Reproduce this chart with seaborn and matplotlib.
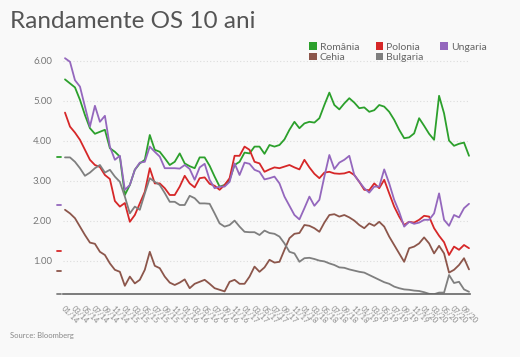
import matplotlib
matplotlib.use('Agg')
import matplotlib.pyplot as plt
import seaborn as sns
import pandas as pd
from matplotlib.patches import Patch

# monthly 10Y yields, 01/2014 .. 10/2020
romania = [5.54, 5.44, 5.34, 5.03, 4.65, 4.32, 4.18, 4.23, 4.28, 3.82, 3.73, 3.61,
           2.65, 2.9, 3.28, 3.44, 3.53, 4.15, 3.78, 3.73, 3.57, 3.4, 3.48, 3.69,
           3.44, 3.37, 3.32, 3.59, 3.59, 3.38, 3.11, 2.86, 2.9, 3.03, 3.4, 3.48,
           3.71, 3.69, 3.86, 3.86, 3.68, 3.9, 3.86, 3.9, 4.04, 4.28, 4.48, 4.32,
           4.44, 4.48, 4.46, 4.57, 4.9, 5.21, 4.9, 4.79, 4.94, 5.07, 4.96, 4.82,
           4.84, 4.73, 4.77, 4.9, 4.86, 4.73, 4.53, 4.28, 4.07, 4.09, 4.19, 4.57,
           4.38, 4.18, 4.03, 5.13, 4.69, 4.01, 3.88, 3.93, 3.96, 3.63]
polonia = [4.71, 4.36, 4.21, 4.03, 3.78, 3.53, 3.4, 3.35, 3.15, 3.05, 2.5, 2.36,
           2.45, 1.98, 2.15, 2.44, 2.73, 3.32, 2.94, 2.94, 2.82, 2.65, 2.65, 2.86,
           3.13, 2.94, 2.84, 3.07, 3.09, 2.93, 2.88, 2.78, 2.9, 3.07, 3.63, 3.63,
           3.86, 3.78, 3.48, 3.44, 3.23, 3.29, 3.34, 3.32, 3.36, 3.4, 3.34, 3.29,
           3.53, 3.34, 3.18, 3.07, 3.21, 3.23, 3.19, 3.18, 3.19, 3.23, 3.15, 2.98,
           2.78, 2.77, 2.94, 2.82, 3.03, 2.69, 2.36, 2.11, 1.9, 1.98, 1.96, 2.03,
           2.13, 2.11, 1.82, 1.63, 1.47, 1.15, 1.36, 1.28, 1.4, 1.32]
ungaria = [6.07, 5.98, 5.52, 5.36, 4.86, 4.36, 4.88, 4.48, 4.63, 3.86, 3.53, 3.63,
           2.78, 2.9, 3.28, 3.46, 3.48, 3.86, 3.73, 3.61, 3.32, 3.32, 3.32, 3.31,
           3.4, 3.3, 3.03, 3.34, 3.43, 3.03, 2.82, 2.86, 2.86, 2.98, 3.44, 3.15,
           3.46, 3.43, 3.28, 3.23, 3.04, 3.07, 3.11, 2.94, 2.61, 2.38, 2.15, 2.04,
           2.32, 2.61, 2.38, 2.53, 3.11, 3.65, 3.3, 3.46, 3.53, 3.63, 3.15, 2.98,
           2.82, 2.71, 2.86, 2.86, 3.29, 2.94, 2.53, 2.23, 1.86, 1.98, 1.93, 1.96,
           2.03, 2.03, 2.19, 2.69, 2.03, 1.88, 2.15, 2.09, 2.32, 2.43]
cehia = [2.28, 2.19, 2.07, 1.86, 1.65, 1.46, 1.43, 1.23, 1.15, 0.94, 0.78, 0.73,
         0.38, 0.61, 0.44, 0.53, 0.78, 1.23, 0.88, 0.82, 0.61, 0.46, 0.4, 0.46,
         0.54, 0.32, 0.43, 0.48, 0.53, 0.43, 0.32, 0.28, 0.24, 0.48, 0.53, 0.43,
         0.43, 0.61, 0.86, 0.73, 0.84, 1.03, 0.96, 0.98, 1.28, 1.57, 1.68, 1.7,
         1.9, 1.88, 1.82, 1.73, 1.96, 2.15, 2.17, 2.11, 2.15, 2.09, 2.01, 1.9,
         1.82, 1.94, 1.88, 1.98, 1.86, 1.61, 1.4, 1.19, 0.98, 1.32, 1.36, 1.44,
         1.59, 1.44, 1.19, 1.38, 1.19, 0.71, 0.78, 0.9, 1.07, 0.79]
bulgaria = [3.59, 3.59, 3.48, 3.32, 3.13, 3.21, 3.32, 3.4, 3.21, 3.28, 3.11, 2.98,
            2.61, 2.19, 2.36, 2.28, 2.69, 3.07, 2.98, 2.9, 2.7, 2.48, 2.48, 2.4,
            2.4, 2.63, 2.57, 2.44, 2.44, 2.43, 2.19, 1.94, 1.86, 1.9, 2.01, 1.86,
            1.73, 1.72, 1.72, 1.65, 1.76, 1.7, 1.68, 1.61, 1.44, 1.23, 1.19, 0.98,
            1.07, 1.08, 1.05, 1.01, 0.99, 0.94, 0.9, 0.84, 0.83, 0.79, 0.76, 0.73,
            0.71, 0.65, 0.59, 0.53, 0.47, 0.43, 0.36, 0.32, 0.29, 0.28, 0.26, 0.25,
            0.22, 0.18, 0.17, 0.21, 0.21, 0.65, 0.45, 0.48, 0.29, 0.23]

countries = ['România', 'Polonia', 'Ungaria', 'Cehia', 'Bulgaria']
colors = ['#2ca02c', '#d62728', '#9467bd', '#8c564b', '#7f7f7f']
# short marks at the left of the axis
stub_vals = [3.6, 1.26, 2.4, 0.75, 0.18]

tick_labels = ['%02d/%d' % (i % 12 + 1, 14 + i // 12) for i in range(0, 82, 2)]

series = [romania, polonia, ungaria, cehia, bulgaria]
rows = []
for name, vals in zip(countries, series):
    for i, v in enumerate(vals):
        rows.append({'idx': i, 'val': v, 'country': name})
df = pd.DataFrame(rows)

sns.set_style('white')
plt.rcParams['font.family'] = ['Lato', 'DejaVu Sans']
bg = '#f9f9f9'

fig = plt.figure(figsize=(5.2, 3.57), dpi=100, facecolor=bg)
ax = fig.add_axes([63 / 520, 63 / 357, 407 / 520, 239 / 357], facecolor=bg)

sns.lineplot(data=df, x='idx', y='val', hue='country', hue_order=countries,
             palette=colors, linewidth=1.3, legend=False, ax=ax)

for v, c in zip(stub_vals, colors):
    ax.plot([-1.7, -0.8], [v, v], color=c, lw=1.3, clip_on=False)

ax.set_xlim(-0.4, 81.2)
ax.set_ylim(0.175, 6.15)
ax.set_yticks([1, 2, 3, 4, 5, 6])
ax.set_yticklabels(['%.2f' % t for t in [1, 2, 3, 4, 5, 6]], fontsize=7, color='#777777')
ax.set_xticks(range(0, 82, 2))
ax.set_xticklabels(tick_labels, fontsize=5.5, color='#888888', rotation=-45,
                   ha='left', va='top', rotation_mode='anchor')
ax.tick_params(axis='y', length=0, pad=8)
ax.tick_params(axis='x', length=3, color='#cccccc', pad=5)
ax.set_xlabel('')
ax.set_ylabel('')
ax.yaxis.grid(True, linestyle=(0, (1, 2)), color='#dddddd', linewidth=0.8)
for s in ['top', 'right', 'left']:
    ax.spines[s].set_visible(False)
ax.spines['bottom'].set_color('#666666')
ax.spines['bottom'].set_linewidth(1.2)

fig.text(10 / 520, 1 - 28 / 357, 'Randamente OS 10 ani', fontsize=17.5, color='#555555')
fig.text(10 / 520, 1 - 338 / 357, 'Source: Bloomberg', fontsize=5.5, color='#888888')

order = [0, 3, 1, 4, 2]
handles = [Patch(facecolor=colors[k], edgecolor='none', label=countries[k]) for k in order]
fig.legend(handles=handles, loc='upper left', bbox_to_anchor=(300 / 520, 1 - 33 / 357),
           ncol=3, frameon=False, fontsize=7.5, handlelength=0.7, handleheight=0.7,
           handletextpad=0.3, columnspacing=1.6, labelspacing=0.1, labelcolor='#666666')

fig.savefig('out.png', dpi=100, facecolor=bg)
